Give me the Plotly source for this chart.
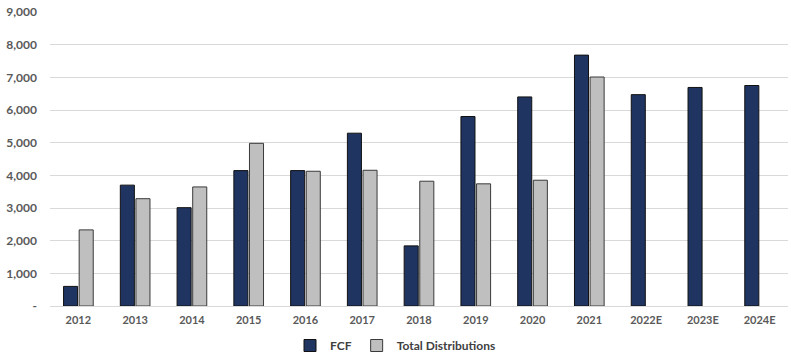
import plotly.graph_objects as go

years = ["2012", "2013", "2014", "2015", "2016", "2017", "2018", "2019", "2020", "2021", "2022E", "2023E", "2024E"]
fcf = [600, 3700, 3010, 4145, 4145, 5290, 1840, 5800, 6400, 7680, 6470, 6690, 6750]
distributions = [2330, 3285, 3645, 4980, 4125, 4155, 3820, 3740, 3850, 7010, None, None, None]

ytick_vals = [0, 1000, 2000, 3000, 4000, 5000, 6000, 7000, 8000, 9000]
ytick_text = ["-", "1,000", "2,000", "3,000", "4,000", "5,000", "6,000", "7,000", "8,000", "9,000"]

font_family = "Lato, 'Open Sans', sans-serif"

fig = go.Figure()
fig.add_trace(go.Bar(
    x=years, y=fcf, name="FCF",
    marker=dict(color="#1f3461", line=dict(color="#111111", width=1)),
))
fig.add_trace(go.Bar(
    x=years, y=distributions, name="Total Distributions",
    marker=dict(color="#bfbfbf", line=dict(color="#3a3a3a", width=1)),
))

fig.update_layout(
    width=791, height=360,
    margin=dict(l=50, r=3, t=12, b=54),
    paper_bgcolor="white", plot_bgcolor="white",
    barmode="group", bargap=0.45, bargroupgap=0.1,
    font=dict(family=font_family, size=12, color="#595959"),
    showlegend=True,
    legend=dict(
        orientation="h", xref="container", yref="container",
        x=0.5, y=0.0, xanchor="center", yanchor="bottom",
        font=dict(family=font_family, size=12, color="#404040", weight="bold"),
        itemwidth=30, traceorder="normal",
    ),
    xaxis=dict(
        type="category",
        showline=True, linecolor="#d9d9d9", linewidth=1,
        showgrid=False, ticks="",
        ticklabelstandoff=4,
        tickfont=dict(family=font_family, size=11, color="#595959", weight="bold"),
    ),
    yaxis=dict(
        range=[0, 9000],
        tickvals=ytick_vals, ticktext=ytick_text,
        showgrid=True, gridcolor="#d9d9d9", gridwidth=1,
        zeroline=False, showline=False, ticks="",
        ticklabelstandoff=12,
        tickfont=dict(family=font_family, size=12, color="#595959", weight="bold"),
    ),
)

fig.write_html("out.html")
